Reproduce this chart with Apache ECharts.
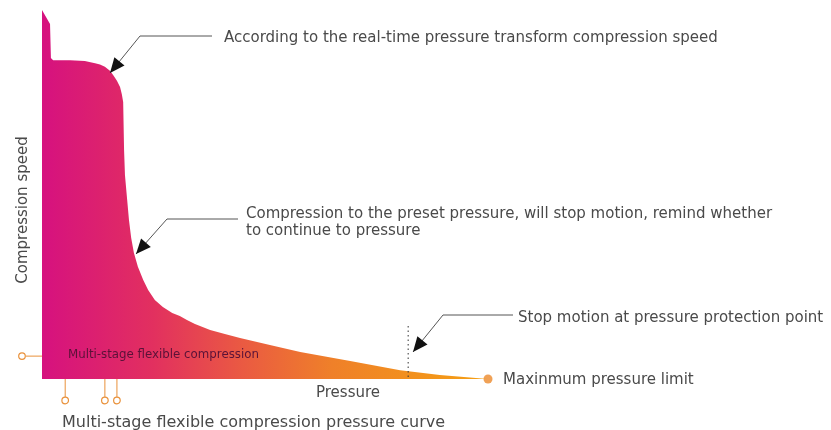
<!DOCTYPE html>
<html>
<head>
<meta charset="utf-8">
<script src="https://cdn.jsdelivr.net/npm/echarts@6/dist/echarts.min.js"></script>
<style>
  html, body { margin: 0; padding: 0; background: #fff; }
  #chart { width: 831px; height: 430px; }
</style>
</head>
<body>
<div id="chart"></div>
<script>
// pressure (x) vs compression speed (y), both in relative units 0-100
const pressure = [0, 1.8, 2.0, 2.5, 6.3, 9.6, 11.9, 13.0, 14.1, 15.3, 16.1, 16.8, 17.5, 17.9, 18.2, 18.4, 18.6, 19.1, 19.5, 20.0, 20.6, 21.5, 22.7, 23.8, 25.3, 27.1, 29.2, 30.9, 32.5, 34.3, 37.7, 41.0, 44.4, 51.1, 57.9, 69.1, 80.3, 89.2, 100];
const speed = [100, 96.2, 87.0, 86.4, 86.4, 86.2, 85.6, 85.2, 84.6, 83.5, 82.1, 80.8, 79.1, 77.2, 75.1, 62.1, 55.3, 48.5, 43.1, 38.2, 34.2, 30.4, 26.8, 24.1, 21.4, 19.5, 17.9, 17.1, 16.0, 14.9, 13.3, 12.2, 11.1, 9.2, 7.3, 4.9, 2.4, 1.1, 0];

// stage markers
const stagePressures = [5.2, 14.1, 16.8];
const stageSpeed = 6.2;
const protectionPressure = 82.1;
const maxPressure = [100, 0];

const labels = {
  xName: 'Pressure',
  yName: 'Compression speed',
  top: 'According to the real-time pressure transform compression speed',
  middle: ['Compression to the preset pressure, will stop motion, remind whether', 'to continue to pressure'],
  stop: 'Stop motion at pressure protection point',
  max: 'Maxinmum pressure limit',
  inner: 'Multi-stage flexible compression',
  bottom: 'Multi-stage flexible compression pressure curve'
};

const FONT = '"DejaVu Sans", sans-serif';
const TXT = '#4a4a4a';
const ORANGE = '#e9913a';

const chart = echarts.init(document.getElementById('chart'));

chart.setOption({
  animation: false,
  grid: { left: 42, right: 343, top: 10, bottom: 51 },
  xAxis: { type: 'value', min: 0, max: 100, show: false },
  yAxis: { type: 'value', min: 0, max: 100, show: false },
  series: [
    {
      type: 'line',
      data: pressure.map((p, i) => [p, speed[i]]),
      symbol: 'none',
      lineStyle: { width: 0 },
      areaStyle: {
        opacity: 1,
        color: new echarts.graphic.LinearGradient(0, 0, 1, 0, [
          { offset: 0, color: '#d6117f' },
          { offset: 0.25, color: '#e2305f' },
          { offset: 0.45, color: '#ea5a42' },
          { offset: 0.65, color: '#ef8029' },
          { offset: 1, color: '#f5a013' }
        ])
      }
    },
    {
      type: 'scatter',
      data: [maxPressure],
      symbolSize: 9,
      itemStyle: { color: '#ec8a2c' }
    }
  ]
});

function px(p, s) { return chart.convertToPixel({ gridIndex: 0 }, [p, s]); }

// arrow head triangle pointing at tip, coming from point "from"
function arrowHead(from, tip, len, half) {
  const dx = tip[0] - from[0], dy = tip[1] - from[1];
  const d = Math.sqrt(dx * dx + dy * dy);
  const ux = dx / d, uy = dy / d;
  const bx = tip[0] - ux * len, by = tip[1] - uy * len;
  return [tip, [bx - uy * half, by + ux * half], [bx + uy * half, by - ux * half]];
}

function callout(pts) {
  const n = pts.length;
  return [
    { type: 'polyline', z: 100, shape: { points: pts }, style: { stroke: '#555', lineWidth: 1, fill: null } },
    { type: 'polygon', z: 100, shape: { points: arrowHead(pts[n - 2], pts[n - 1], 15, 6.5) }, style: { fill: '#111' } }
  ];
}

const base = px(0, 0)[1];
const leftX = px(0, 0)[0];
const g = [];

// callouts
g.push(...callout([[212, 36], [140, 36], [110, 73]]));
g.push(...callout([[238, 219], [167, 219], [136, 254]]));
g.push(...callout([[513, 315], [443, 315], [413, 352]]));

// protection point dotted line
const prot = px(protectionPressure, 0);
g.push({ type: 'line', z: 100, shape: { x1: prot[0], y1: 326, x2: prot[0], y2: prot[1] }, style: { stroke: '#333', lineWidth: 1, lineDash: [1.5, 3] } });

// stage markers
const ys = px(0, stageSpeed)[1];
g.push({ type: 'line', z: 100, shape: { x1: 26, y1: ys, x2: leftX, y2: ys }, style: { stroke: ORANGE, lineWidth: 1 } });
g.push({ type: 'circle', z: 100, shape: { cx: 22, cy: ys, r: 3.3 }, style: { stroke: ORANGE, lineWidth: 1.2, fill: '#fff' } });
stagePressures.forEach(p => {
  const x = px(p, 0)[0];
  g.push({ type: 'line', z: 100, shape: { x1: x, y1: base, x2: x, y2: 397 }, style: { stroke: ORANGE, lineWidth: 1 } });
  g.push({ type: 'circle', z: 100, shape: { cx: x, cy: 400.5, r: 3.3 }, style: { stroke: ORANGE, lineWidth: 1.2, fill: '#fff' } });
});

function text(str, x, y, size, color) {
  return {
    type: 'text', z: 100, x: x, y: y,
    style: { text: str, fill: color || TXT, font: size + 'px ' + FONT, verticalAlign: 'middle', align: 'left' }
  };
}

g.push(text(labels.top, 224, 38, 15));
g.push(text(labels.middle[0], 246, 214, 15));
g.push(text(labels.middle[1], 246, 231, 15));
g.push(text(labels.stop, 518, 318, 15));
g.push(text(labels.max, 503, 380, 15));
g.push(text(labels.xName, 316, 393, 15));
g.push(text(labels.bottom, 62, 423, 16));
g.push(text(labels.inner, 68, 355, 11.8, '#5a1238'));
g.push({
  type: 'text', z: 100, x: 23, y: 210, rotation: Math.PI / 2,
  style: { text: labels.yName, fill: TXT, font: '15px ' + FONT, verticalAlign: 'middle', align: 'center' }
});

chart.setOption({ graphic: g });
</script>
</body>
</html>
